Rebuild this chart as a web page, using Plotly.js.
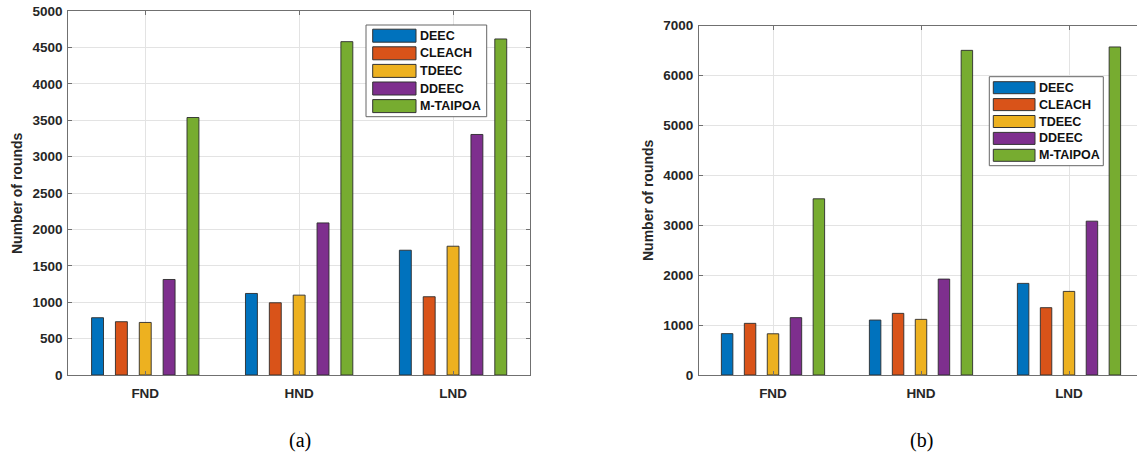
<!DOCTYPE html>
<html><head><meta charset="utf-8">
<script src="https://cdn.plot.ly/plotly-3.0.1.min.js"></script>
<style>html,body{margin:0;padding:0;background:#fff}</style>
</head><body><div id="chart" style="width:1137px;height:454px"></div>
<script>
const categories = ['FND', 'HND', 'LND'];
const seriesNames = ['DEEC', 'CLEACH', 'TDEEC', 'DDEEC', 'M-TAIPOA'];
const seriesColors = ['#0072BD', '#D95319', '#EDB120', '#7E2F8E', '#77AC30'];

// Panel (a)
const deecA = [787, 1120, 1714];
const cleachA = [732, 992, 1075];
const tdeecA = [722, 1097, 1769];
const ddeecA = [1312, 2089, 3304];
const mtaipoaA = [3537, 4579, 4616];
// Panel (b)
const deecB = [829, 1101, 1836];
const cleachB = [1035, 1235, 1349];
const tdeecB = [826, 1115, 1675];
const ddeecB = [1149, 1922, 3083];
const mtaipoaB = [3531, 6506, 6574];

const yTicksA = [0, 500, 1000, 1500, 2000, 2500, 3000, 3500, 4000, 4500, 5000];
const yTicksB = [0, 1000, 2000, 3000, 4000, 5000, 6000, 7000];
const yTitle = 'Number of rounds';
const captions = ['(a)', '(b)'];

const W = 1137, H = 454;
const px = v => v / W;
const py = v => 1 - v / H;
const SANS = 'Liberation Sans, Arial, sans-serif';
const bold = s => '<b>' + s + '</b>';

const panelA = [deecA, cleachA, tdeecA, ddeecA, mtaipoaA];
const panelB = [deecB, cleachB, tdeecB, ddeecB, mtaipoaB];

const traces = [];
panelA.forEach((vals, i) => traces.push({
  type: 'bar', x: categories, y: vals, name: seriesNames[i],
  xaxis: 'x', yaxis: 'y', showlegend: false,
  marker: {color: seriesColors[i], line: {color: '#2b2b2b', width: 0.9}}
}));
panelB.forEach((vals, i) => traces.push({
  type: 'bar', x: categories, y: vals, name: seriesNames[i],
  xaxis: 'x2', yaxis: 'y2', showlegend: false,
  marker: {color: seriesColors[i], line: {color: '#2b2b2b', width: 0.9}}
}));

const axisCommon = {
  showline: true, linecolor: '#707070', linewidth: 1,
  showgrid: true, gridcolor: '#e3e3e3', gridwidth: 1,
  ticks: 'inside', ticklen: 4, tickcolor: '#707070',
  zeroline: false, fixedrange: true,
  tickfont: {family: SANS, size: 13.5, color: '#262626'}
};

const shapes = [];
const annotations = [];

function addLegend(box, swX0, swX1, rowY0, rowStep, swH, textX) {
  shapes.push({type: 'rect', xref: 'paper', yref: 'paper',
    x0: px(box[0]), x1: px(box[1]), y0: py(box[2]), y1: py(box[3]),
    fillcolor: '#ffffff', line: {color: '#666666', width: 1}});
  seriesNames.forEach((nm, i) => {
    const cy = rowY0 + i * rowStep;
    shapes.push({type: 'rect', xref: 'paper', yref: 'paper',
      x0: px(swX0), x1: px(swX1), y0: py(cy - swH / 2), y1: py(cy + swH / 2),
      fillcolor: seriesColors[i], line: {color: '#333333', width: 1}});
    annotations.push({xref: 'paper', yref: 'paper', x: px(textX), y: py(cy),
      xanchor: 'left', yanchor: 'middle', showarrow: false, text: bold(nm),
      font: {family: SANS, size: 12.5, color: '#111'}});
  });
}
addLegend([366, 486.7, 25, 116.7], 372.7, 416, 35.7, 17.6, 13, 418);
addLegend([989.3, 1103.3, 76.7, 165.7], 993.3, 1035, 87.7, 16.9, 12, 1037);

annotations.push({xref: 'paper', yref: 'paper', x: px(17), y: py(193),
  xanchor: 'center', yanchor: 'middle', textangle: -90, showarrow: false,
  text: bold(yTitle), font: {family: SANS, size: 14, color: '#262626'}});
annotations.push({xref: 'paper', yref: 'paper', x: px(648), y: py(200),
  xanchor: 'center', yanchor: 'middle', textangle: -90, showarrow: false,
  text: bold(yTitle), font: {family: SANS, size: 14, color: '#262626'}});
annotations.push({xref: 'paper', yref: 'paper', x: px(300), y: py(440),
  xanchor: 'center', yanchor: 'middle', showarrow: false, text: captions[0],
  font: {family: 'Liberation Serif, Times New Roman, serif', size: 20, color: '#000'}});
annotations.push({xref: 'paper', yref: 'paper', x: px(921), y: py(440),
  xanchor: 'center', yanchor: 'middle', showarrow: false, text: captions[1],
  font: {family: 'Liberation Serif, Times New Roman, serif', size: 20, color: '#000'}});

const layout = {
  width: W, height: H, margin: {l: 0, r: 0, t: 0, b: 0},
  paper_bgcolor: '#ffffff', plot_bgcolor: '#ffffff',
  barmode: 'group', bargap: 0.225, bargroupgap: 0.5,
  showlegend: false,
  xaxis: Object.assign({}, axisCommon, {domain: [px(68.3), px(530)], anchor: 'y',
    type: 'category', range: [-0.5, 2.5], mirror: 'ticks',
    tickvals: categories, ticktext: categories.map(bold), ticklabelstandoff: 6}),
  yaxis: Object.assign({}, axisCommon, {domain: [py(375), py(11)], anchor: 'x',
    range: [0, 5000], tickvals: yTicksA, ticktext: yTicksA.map(bold), mirror: 'ticks',
    ticklabelstandoff: 2}),
  xaxis2: Object.assign({}, axisCommon, {domain: [px(699), 1], anchor: 'y2',
    type: 'category', range: [-0.5, -0.5 + (W - 699) / 148], mirror: 'ticks',
    tickvals: categories, ticktext: categories.map(bold), ticklabelstandoff: 6}),
  yaxis2: Object.assign({}, axisCommon, {domain: [py(375), py(25.7)], anchor: 'x2',
    range: [0, 7000], tickvals: yTicksB, ticktext: yTicksB.map(bold), mirror: false,
    ticklabelstandoff: 2}),
  shapes: shapes,
  annotations: annotations
};

Plotly.newPlot('chart', traces, layout, {displayModeBar: false, staticPlot: true});
</script>
</body></html>
